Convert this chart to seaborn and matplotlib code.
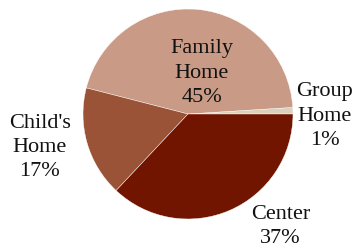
import matplotlib
matplotlib.use("Agg")
import matplotlib.pyplot as plt
import seaborn as sns

# data
categories = ["Group\nHome", "Family\nHome", "Child's\nHome", "Center"]
shares = [1, 45, 17, 37]
colors = ["#D9D1BD", "#C99A85", "#9A5337", "#721500"]

# label positions in pie units (centre 0,0, radius 1)
label_pos = [(1.30, -0.02), (0.13, 0.39), (-1.41, -0.32), (0.88, -1.07)]

sns.set_theme(style="white")
plt.rcParams["font.family"] = ["Liberation Serif", "DejaVu Serif"]

fig = plt.figure(figsize=(3.6, 2.48), dpi=100)
ax = fig.add_axes([0, 0, 1, 1])

wedges, texts = ax.pie(
    shares,
    colors=colors,
    startangle=0,
    counterclock=True,
    radius=1.0,
    wedgeprops=dict(edgecolor="white", linewidth=0.3),
)

for name, val, (x, y) in zip(categories, shares, label_pos):
    ax.text(x, y, f"{name}\n{val}%", ha="center", va="center",
            fontsize=16, linespacing=1.38, color="#111111")

ax.set_xlim(-188 / 105, (360 - 188) / 105)
ax.set_ylim(114 / 105 - 248 / 105, 114 / 105)
ax.axis("off")

fig.savefig("out.png", dpi=100)
